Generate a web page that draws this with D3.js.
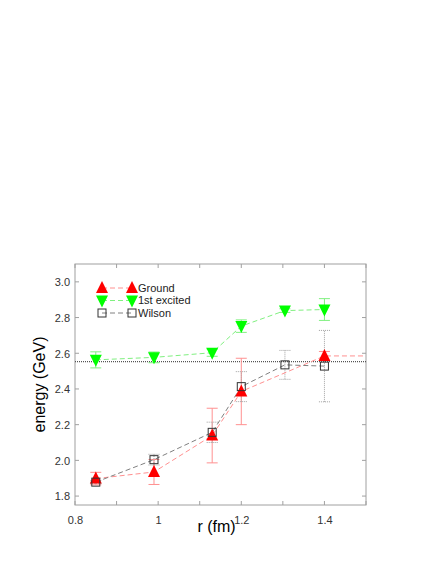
<!DOCTYPE html>
<html>
<head>
<meta charset="utf-8">
<script src="https://cdn.jsdelivr.net/npm/d3@7"></script>
<style>
  body { margin: 0; background: #fff; }
  text { font-family: 'Liberation Sans', Arial, sans-serif; }
</style>
</head>
<body>
<div id="chart"></div>
<script>
// data
let groundR = [0.85, 0.99, 1.13, 1.20, 1.40, 1.55]
let groundE = [1.898, 1.935, 2.139, 2.386, 2.585, 2.585]
let groundErr = [0.035, 0.07, 0.153, 0.186, 0.025, 0]

let excitedR = [0.85, 0.99, 1.13, 1.20, 1.305, 1.40]
let excitedE = [2.563, 2.577, 2.603, 2.752, 2.839, 2.845]
let excitedErr = [0.045, 0.03, 0.02, 0.035, 0.01, 0.061]

let wilsonR = [0.85, 0.99, 1.13, 1.20, 1.305, 1.40]
let wilsonE = [1.878, 2.004, 2.157, 2.413, 2.535, 2.528]
let wilsonErr = [0.008, 0.03, 0.057, 0.084, 0.081, 0.2]

let refLevel = 2.553

let xTicks = [0.8, 1, 1.2, 1.4]
let yTicks = [1.8, 2.0, 2.2, 2.4, 2.6, 2.8, 3.0]

let margin = { top: 264, left: 75, right: 75, bottom: 65 }
let width = 441 - margin.left - margin.right
let height = 570 - margin.top - margin.bottom

let svg = d3
  .select('#chart')
  .append('svg')
  .attr('width', 441)
  .attr('height', 570)
  .append('g')
  .attr('transform', 'translate(' + margin.left + ',' + margin.top + ')')

let xPositionScale = d3.scaleLinear().domain([0.8, 1.5]).range([0, width])
let yPositionScale = d3.scaleLinear().domain([1.75, 3.1]).range([height, 0])

svg
  .append('clipPath')
  .attr('id', 'clip')
  .append('rect')
  .attr('width', width)
  .attr('height', height)

function zip(rs, es, errs) {
  return rs.map((r, i) => ({ r: r, e: es[i], err: errs[i] }))
}

let series = [
  {
    name: 'Ground',
    values: zip(groundR, groundE, groundErr),
    marker: 'up',
    fill: '#ff0000',
    line: '#ff9090',
    bar: '#ff9090',
    barDash: null
  },
  {
    name: '1st excited',
    values: zip(excitedR, excitedE, excitedErr),
    marker: 'down',
    fill: '#00ff00',
    line: '#80f080',
    bar: '#80f080',
    barDash: null
  },
  {
    name: 'Wilson',
    values: zip(wilsonR, wilsonE, wilsonErr),
    marker: 'square',
    fill: 'none',
    line: '#808080',
    bar: '#a0a0a0',
    barDash: '1,1'
  }
]

// frame
let frameColor = '#a0a0a0'
svg
  .append('rect')
  .attr('width', width)
  .attr('height', height)
  .attr('fill', 'none')
  .attr('stroke', frameColor)
  .attr('stroke-width', 1)

// axes
let xAxis = d3
  .axisBottom(xPositionScale)
  .tickValues(xTicks)
  .tickFormat(d => (d === 1 ? '1' : d3.format('.1f')(d)))
  .tickSize(0)
  .tickPadding(11)
svg
  .append('g')
  .attr('class', 'axis x-axis')
  .attr('transform', 'translate(0,' + height + ')')
  .call(xAxis)

let yAxis = d3
  .axisLeft(yPositionScale)
  .tickValues(yTicks)
  .tickFormat(d3.format('.1f'))
  .tickSize(0)
  .tickPadding(5)
svg
  .append('g')
  .attr('class', 'axis y-axis')
  .call(yAxis)

svg.selectAll('.axis .domain').remove()
svg
  .selectAll('.axis text')
  .attr('font-size', 11)
  .attr('fill', '#333')
svg.selectAll('.y-axis text').attr('dy', '0.35em')

// inward tick marks on all sides
let minorX = d3.range(0.8, 1.501, 0.1)
minorX.forEach(v => {
  let x = xPositionScale(v)
  svg.append('line').attr('x1', x).attr('x2', x).attr('y1', height).attr('y2', height - 4).attr('stroke', frameColor)
  svg.append('line').attr('x1', x).attr('x2', x).attr('y1', 0).attr('y2', 4).attr('stroke', frameColor)
})
yTicks.forEach(v => {
  let y = yPositionScale(v)
  svg.append('line').attr('x1', 0).attr('x2', 4).attr('y1', y).attr('y2', y).attr('stroke', frameColor)
  svg.append('line').attr('x1', width).attr('x2', width - 4).attr('y1', y).attr('y2', y).attr('stroke', frameColor)
})

// reference level
svg
  .append('line')
  .attr('x1', 0)
  .attr('x2', width)
  .attr('y1', yPositionScale(refLevel))
  .attr('y2', yPositionScale(refLevel))
  .attr('stroke', '#555')
  .attr('stroke-width', 1.2)
  .attr('stroke-dasharray', '1,1')

let plot = svg.append('g').attr('clip-path', 'url(#clip)')

let line = d3
  .line()
  .x(d => xPositionScale(d.r))
  .y(d => yPositionScale(d.e))

// error bars
series.forEach(s => {
  let g = plot.append('g')
  s.values.filter(d => d.err > 0).forEach(d => {
    let x = xPositionScale(d.r)
    let y1 = yPositionScale(d.e - d.err)
    let y2 = yPositionScale(d.e + d.err)
    let bar = g.append('g')
      .attr('stroke', s.bar)
      .attr('stroke-width', 1)
      .attr('stroke-dasharray', s.barDash)
    bar.append('line').attr('x1', x).attr('x2', x).attr('y1', y1).attr('y2', y2)
    bar.append('line').attr('x1', x - 5.5).attr('x2', x + 5.5).attr('y1', y1).attr('y2', y1)
    bar.append('line').attr('x1', x - 5.5).attr('x2', x + 5.5).attr('y1', y2).attr('y2', y2)
  })
})

// lines
series.forEach(s => {
  plot
    .append('path')
    .attr('d', line(s.values))
    .attr('fill', 'none')
    .attr('stroke', s.line)
    .attr('stroke-width', 1)
    .attr('stroke-dasharray', '5,3')
})

function drawMarker(g, type, x, y, fill) {
  if (type === 'up') {
    g.append('path')
      .attr('d', d3.line()([[x - 6, y + 5], [x + 6, y + 5], [x, y - 7]]) + 'Z')
      .attr('fill', fill)
  } else if (type === 'down') {
    g.append('path')
      .attr('d', d3.line()([[x - 6, y - 5], [x + 6, y - 5], [x, y + 7]]) + 'Z')
      .attr('fill', fill)
  } else {
    g.append('rect')
      .attr('x', x - 4)
      .attr('y', y - 4)
      .attr('width', 8)
      .attr('height', 8)
      .attr('fill', 'none')
      .attr('stroke', '#333')
      .attr('stroke-width', 1)
  }
}

// markers
series.forEach(s => {
  let g = plot.append('g')
  s.values.forEach(d => {
    drawMarker(g, s.marker, xPositionScale(d.r), yPositionScale(d.e), s.fill)
  })
})

// legend
let legend = svg.append('g').attr('transform', 'translate(27,24)')
series.forEach((s, i) => {
  let y = i * 12.5
  legend
    .append('line')
    .attr('x1', 0)
    .attr('x2', 30)
    .attr('y1', y)
    .attr('y2', y)
    .attr('stroke', s.line)
    .attr('stroke-dasharray', '5,3')
  drawMarker(legend, s.marker, 0, y, s.fill)
  drawMarker(legend, s.marker, 30, y, s.fill)
  legend
    .append('text')
    .attr('x', 36)
    .attr('y', y)
    .attr('dy', '0.35em')
    .attr('font-size', 11)
    .attr('fill', '#222')
    .text(s.name)
})

// axis titles
svg
  .append('text')
  .attr('x', xPositionScale(1.15) - 4)
  .attr('y', height + 27)
  .attr('text-anchor', 'middle')
  .attr('font-size', 16)
  .attr('fill', '#000')
  .text('r (fm)')

svg
  .append('text')
  .attr('transform', 'translate(' + -30 + ',' + height / 2 + ') rotate(-90)')
  .attr('text-anchor', 'middle')
  .attr('font-size', 16)
  .attr('fill', '#000')
  .text('energy (GeV)')
</script>
</body>
</html>
